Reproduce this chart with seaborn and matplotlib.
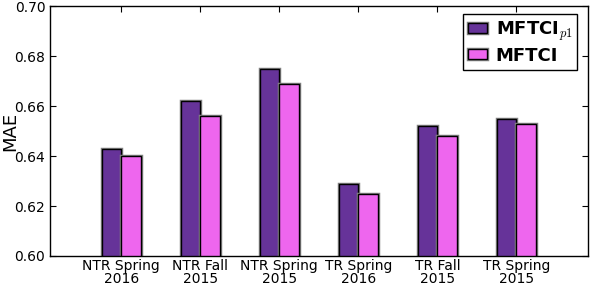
import numpy as np
import pandas as pd
import matplotlib
matplotlib.use('Agg')
import matplotlib.pyplot as plt
import matplotlib.patheffects as pe
import seaborn as sns

categories = ['NTR Spring\n2016', 'NTR Fall\n2015', 'NTR Spring\n2015',
              'TR Spring\n2016', 'TR Fall\n2015', 'TR Spring\n2015']
mftci_p1 = [0.643, 0.662, 0.675, 0.629, 0.652, 0.655]
mftci = [0.640, 0.656, 0.669, 0.625, 0.648, 0.653]
series_names = [r'MFTCI$_{p1}$', 'MFTCI']
colors = ['#663399', '#EE66EE']

df = pd.DataFrame({
    'category': categories * 2,
    'MAE': mftci_p1 + mftci,
    'method': [series_names[0]] * len(categories) + [series_names[1]] * len(categories),
})

sns.set_style('white')
plt.rcParams['font.family'] = ['DejaVu Sans']
plt.rcParams['mathtext.fontset'] = 'cm'
plt.rcParams['xtick.direction'] = 'in'
plt.rcParams['ytick.direction'] = 'in'
plt.rcParams['text.color'] = 'black'
plt.rcParams['axes.labelcolor'] = 'black'
plt.rcParams['xtick.color'] = 'black'
plt.rcParams['ytick.color'] = 'black'

fig, ax = plt.subplots(figsize=(5.9, 2.86), dpi=100)

sns.barplot(data=df, x='category', y='MAE', hue='method', palette=colors,
            saturation=1, width=0.5, edgecolor='black', linewidth=1, ax=ax, legend=True)

for patch in ax.patches:
    patch.set_path_effects([pe.Stroke(linewidth=2.5, foreground='#808080'), pe.Normal()])

ax.set_ylim(0.60, 0.70)
ax.set_yticks([0.60, 0.62, 0.64, 0.66, 0.68, 0.70])
ax.set_yticklabels(['0.60', '0.62', '0.64', '0.66', '0.68', '0.70'])
ax.set_xlim(-0.9, 5.91)
ax.set_xlabel('')
ax.set_ylabel('MAE', fontsize=13)
ax.yaxis.set_label_coords(-0.058, 0.5)
ax.tick_params(axis='both', labelsize=10, top=True, right=True, bottom=True, left=True,
               length=4, width=0.8, color='black')
ax.tick_params(axis='x', pad=2)
for lbl in ax.get_xticklabels():
    lbl.set_linespacing(0.95)
for s in ax.spines.values():
    s.set_color('black')
    s.set_linewidth(1)

leg = ax.legend(loc='upper right', frameon=True, fancybox=False,
                edgecolor='black', framealpha=1, handlelength=1.0, handleheight=0.45,
                borderpad=0.28, labelspacing=0.22, handletextpad=0.5, borderaxespad=0,
                bbox_to_anchor=(0.98, 0.968),
                prop={'weight': 'bold', 'size': 13})
leg.get_frame().set_linewidth(1)
for h in leg.legend_handles:
    h.set_path_effects([pe.Stroke(linewidth=2.5, foreground='#808080'), pe.Normal()])

fig.subplots_adjust(left=0.085, right=0.997, top=0.978, bottom=0.105)
fig.savefig('out.png', dpi=100)
